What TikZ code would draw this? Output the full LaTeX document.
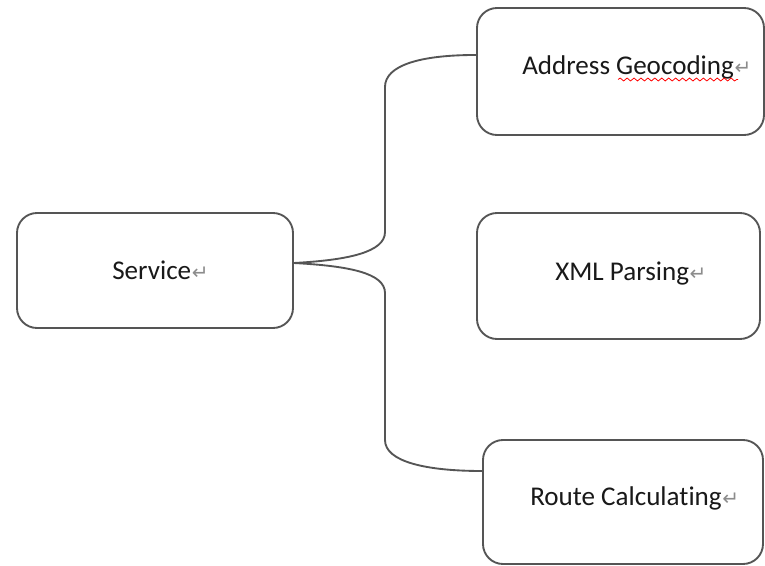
\documentclass[tikz,border=0pt]{standalone}
\usepackage{fontspec}
\setmainfont[Ligatures=NoCommon]{Carlito}
\newfontfamily\symfont{DejaVu Sans}
\usetikzlibrary{decorations.pathmorphing}
\definecolor{linegray}{HTML}{555555}
\definecolor{markgray}{HTML}{8C8C8C}
\newcommand{\parmark}{\hspace{0.5pt}{\symfont\fontsize{15}{16}\selectfont\color{markgray}↵}}
\begin{document}
\begin{tikzpicture}[x=0.75pt,y=-0.75pt,
  box/.style={draw=linegray, line width=1.4pt, rounded corners=15pt, rectangle, inner sep=0pt, fill=white},
  conn/.style={draw=linegray, line width=1.4pt},
  label/.style={anchor=base west, inner sep=0pt, text=black!90, font=\fontsize{20.3}{24}\selectfont},
  spell/.style={draw=red, line width=0.6pt, decorate, decoration={snake, amplitude=1.1pt, segment length=5.2pt}}]
  \path[use as bounding box, fill=white] (0,0) rectangle (765,565);

  \node[box, minimum width=207pt, minimum height=86.25pt] (svc) at (155,270.5) {};
  \node[box, minimum width=215.25pt, minimum height=95.25pt] (addr) at (620.5,71.5) {};
  \node[box, minimum width=212.25pt, minimum height=94.5pt] (xml) at (618.5,276) {};
  \node[box, minimum width=210pt, minimum height=93pt] (route) at (623,502) {};

  \node[label] (tsvc) at (112,279) {Service\parmark};
  \node[label] (taddr) at (522,74) {Address Geocoding\parmark};
  \node[label] (txml) at (555,280) {XML Parsing\parmark};
  \node[label] (troute) at (530,505) {Route Calculating\parmark};

  \coordinate (w1) at (618,79.5);
  \coordinate (w2) at (738,79.5);
  \draw[spell] (w1) -- (w2);

  \draw[conn] ([yshift=5.625pt]svc.east) .. controls +(55,-3) and +(0,20) .. (385,232)
     -- (385,87) .. controls +(0,-22) and +(-55,0) .. ([yshift=12.4pt]addr.west);
  \draw[conn] ([yshift=5.625pt]svc.east) .. controls +(55,3) and +(0,-20) .. (385,293)
     -- (385,440) .. controls +(0,22) and +(-55,0) .. ([yshift=23.25pt]route.west);
\end{tikzpicture}
\end{document}
